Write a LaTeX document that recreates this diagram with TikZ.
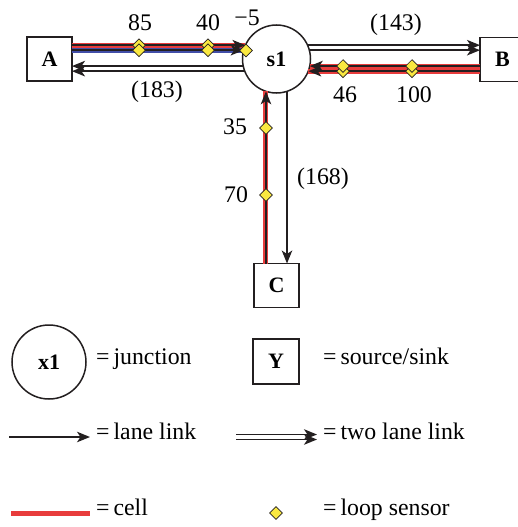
\documentclass[tikz,border=0pt]{standalone}
\usepackage{fontspec}
\setmainfont{Liberation Serif}
\usepackage{tikz}
\usetikzlibrary{positioning, arrows.meta, shapes.geometric}
\definecolor{cellred}{RGB}{232, 60, 60}
\definecolor{cellblue}{RGB}{66, 78, 168}
\definecolor{sensoryellow}{RGB}{250, 232, 64}
\definecolor{linkblack}{RGB}{35, 31, 32}

\begin{document}
\begin{tikzpicture}[x=1pt, y=-1pt, font=\fontsize{23.8}{28}\selectfont,
    junction/.style={circle, draw=linkblack, line width=1.5pt, minimum size=68pt,
                     inner sep=0pt, outer sep=0pt, font=\fontsize{22}{26}\selectfont\bfseries},
    endpoint/.style={rectangle, draw=linkblack, line width=1.5pt, minimum width=45pt,
                     minimum height=44pt, inner sep=0pt, outer sep=0pt,
                     font=\fontsize{22}{26}\selectfont\bfseries},
    lane/.style={draw=linkblack, line width=1.6pt,
                 -{Stealth[length=13pt, width=10.5pt, inset=3.5pt]}},
    cellband/.style={line width=5pt},
    sensor/.style={diamond, draw=linkblack, line width=0.7pt, fill=sensoryellow,
                   inner sep=0pt, minimum size=13pt},
    lbl/.style={inner sep=0pt}]

  \useasboundingbox (0,0) rectangle (518,527);

  % network
  \node[endpoint] (A) at (49.5,59) {A};
  \node[junction] (s1) at (276.5,59) {s1};
  \node[endpoint] (B) at (502.5,59.5) {B};
  \node[endpoint] (C) at (276.5,285.5) {C};

  % cells
  \draw[cellband, cellred] (A.east |- s1.156) -- (s1.156);
  \draw[cellband, cellblue] (A.east |- s1.165) -- (s1.165);
  \foreach \a in {348, 339}
    \draw[cellband, cellred] (B.west |- s1.\a) -- (s1.\a);
  \draw[cellband, cellred] (s1.252 |- C.north) -- (s1.252);

  % lanes
  \foreach \a in {156, 165}
    \draw[lane] (A.east |- s1.\a) -- (s1.\a);
  \foreach \a in {192, 201}
    \draw[lane] (s1.\a) -- (A.east |- s1.\a);
  \foreach \a in {24, 15}
    \draw[lane] (s1.\a) -- (B.west |- s1.\a);
  \foreach \a in {348, 339}
    \draw[lane] (B.west |- s1.\a) -- (s1.\a);
  \draw[lane] (s1.252 |- C.north) -- (s1.252);
  \draw[lane] (s1.288) -- (s1.288 |- C.north);

  % loop sensors
  \foreach \x in {139, 208} {
    \node[sensor] (sa\x) at (\x, 45.2) {};
    \node[sensor] (sb\x) at (\x, 50.2) {};
  }
  \node[sensor] (sa246) at (246, 50.5) {};
  \foreach \x in {343, 412} {
    \node[sensor] (sd\x) at (\x, 71.2) {};
    \node[sensor] (sc\x) at (\x, 66.1) {};
  }
  \foreach \y in {128, 195}
    \node[sensor] (se\y) at (266, \y) {};

  % distances
  \node[lbl] (d85) at (140,23) {85};
  \node[lbl] (d40) at (208,23) {40};
  \node[lbl] (dm5) at (247,18) {−5};
  \node[lbl] (d183) at (157,92) {(183)};
  \node[lbl] (d143) at (396,25) {(143)};
  \node[lbl] (d46) at (345,95) {46};
  \node[lbl] (d100) at (414,95) {100};
  \node[lbl] (d35) at (235,127) {35};
  \node[lbl] (d70) at (236,195) {70};
  \node[lbl] (d168) at (323,179) {(168)};

  % legend
  \node[junction, minimum size=74pt] (kx) at (49,362) {x1};
  \node[lbl, anchor=mid west] (tx) at (96,362) {=\,junction};
  \node[endpoint, minimum width=46pt, minimum height=45pt] (ky) at (276,361.5) {Y};
  \node[lbl, anchor=mid west] (ty) at (323,362) {=\,source/sink};

  \coordinate (ll0) at (9,437);
  \coordinate (ll1) at (90,437);
  \draw[lane] (ll0) -- (ll1);
  \node[lbl, anchor=mid west] (tl) at (96,437) {=\,lane link};
  \coordinate (tw0) at (236,434.5);
  \coordinate (tw1) at (317,434.5);
  \coordinate (tw2) at (236,439.5);
  \coordinate (tw3) at (317,439.5);
  \draw[lane] (tw0) -- (tw1);
  \draw[lane] (tw2) -- (tw3);
  \node[lbl, anchor=mid west] (tt) at (323,437) {=\,two lane link};

  \coordinate (cl0) at (11,513);
  \coordinate (cl1) at (90,513);
  \draw[cellred, line width=5pt] (cl0) -- (cl1);
  \node[lbl, anchor=mid west] (tc) at (96,513) {=\,cell};
  \node[sensor] (ks) at (276,513) {};
  \node[lbl, anchor=mid west] (ts) at (323,513) {=\,loop sensor};
\end{tikzpicture}
\end{document}
